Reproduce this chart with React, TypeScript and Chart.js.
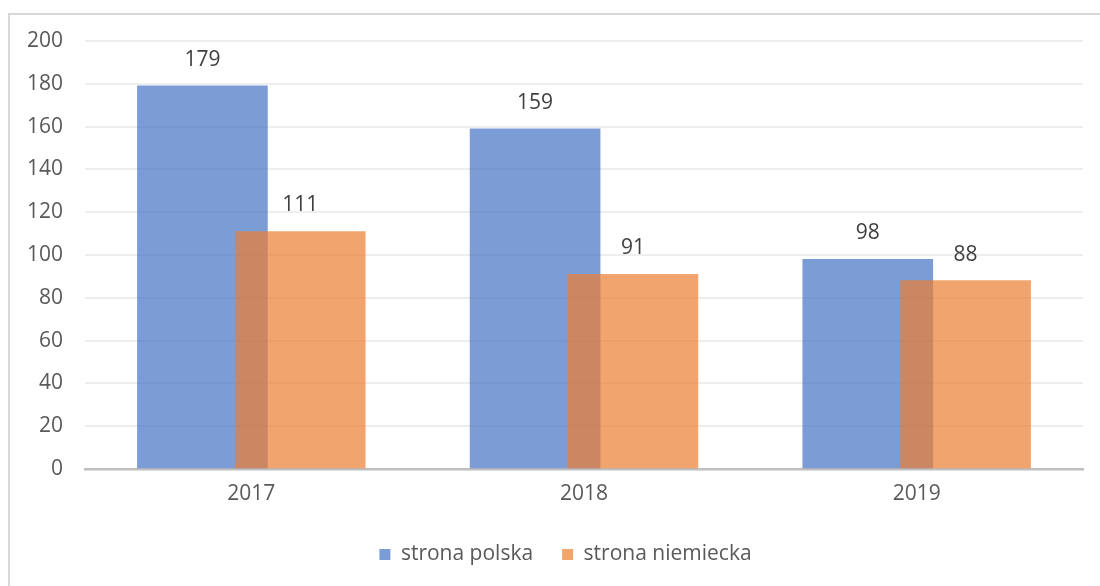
import React, { useEffect, useRef } from "react";
import { Chart, registerables } from "chart.js";

Chart.register(...registerables);

const categories = ["2017", "2018", "2019"];
const seriesNames = ["strona polska", "strona niemiecka"];
const polskaValues = [179, 159, 98];
const niemieckaValues = [111, 91, 88];
const yMin = 0;
const yMax = 200;
const yStep = 20;

const FONT = "'Open Sans', 'Noto Sans', sans-serif";
const FS = 21;
const SHIFT = 0.147;
const LEGEND_SHIFT = 24;

const valueLabels = {
  id: "valueLabels",
  afterDatasetsDraw(chart: any) {
    const ctx = chart.ctx;
    ctx.save();
    ctx.font = `${FS}px ${FONT}`;
    ctx.fillStyle = "#404040";
    ctx.textAlign = "center";
    ctx.textBaseline = "middle";
    chart.data.datasets.forEach((ds: any, di: number) => {
      const meta = chart.getDatasetMeta(di);
      meta.data.forEach((el: any, i: number) => {
        const v = ds.data[i].y;
        ctx.fillText(String(v), el.x, el.y - 26);
      });
    });
    ctx.restore();
  },
};

const legendShift = {
  id: "legendShift",
  afterLayout(chart: any) {
    const lg = chart.legend;
    if (lg) {
      lg.left += LEGEND_SHIFT;
      lg.right += LEGEND_SHIFT;
      if (lg.adjustHitBoxes) lg.adjustHitBoxes();
    }
  },
};

export default function App() {
  const ref = useRef<HTMLCanvasElement | null>(null);
  useEffect(() => {
    document.body.style.margin = "0";
    if (!ref.current) return;
    const chart = new Chart(ref.current, {
      type: "bar",
      data: {
        datasets: [
          {
            label: seriesNames[0],
            data: polskaValues.map((v, i) => ({ x: i - SHIFT, y: v })),
            backgroundColor: "rgba(68,114,196,0.7)",
            borderWidth: 0,
            order: 2,
          },
          {
            label: seriesNames[1],
            data: niemieckaValues.map((v, i) => ({ x: i + SHIFT, y: v })),
            backgroundColor: "rgba(237,125,49,0.7)",
            borderWidth: 0,
            order: 1,
          },
        ],
      },
      options: {
        animation: false,
        responsive: false,
        grouped: false,
        barThickness: 130,
        layout: { padding: { top: 41, right: 17, left: 0, bottom: 11 } },
        plugins: {
          tooltip: { enabled: false },
          legend: {
            position: "bottom",
            labels: {
              boxWidth: 11,
              boxHeight: 11,
              padding: 29,
              color: "#595959",
              font: { family: FONT, size: FS },
              sort: (a: any, b: any) => a.datasetIndex - b.datasetIndex,
            },
          },
        },
        scales: {
          x: {
            type: "linear",
            offset: false,
            min: -0.5,
            max: categories.length - 0.5,
            afterBuildTicks: (axis: any) => {
              axis.ticks = categories.map((_, i) => ({ value: i }));
            },
            afterFit: (axis: any) => {
              axis.height = 46;
            },
            ticks: {
              callback: (v: any) => categories[v as number] ?? "",
              color: "#595959",
              font: { family: FONT, size: FS },
              padding: 12,
              maxRotation: 0,
              autoSkip: false,
            },
            grid: { display: false, drawTicks: false },
            border: { display: true, color: "#bfbfbf", width: 2.5 },
          },
          y: {
            min: yMin,
            max: yMax,
            ticks: {
              stepSize: yStep,
              color: "#595959",
              font: { family: FONT, size: FS },
              padding: 22,
            },
            afterFit: (axis: any) => {
              axis.width = 85;
            },
            grid: { color: "#eeeeee", lineWidth: 2, drawTicks: false },
            border: { display: false },
          },
        },
      } as any,
      plugins: [valueLabels, legendShift],
    });
    return () => chart.destroy();
  }, []);

  return (
    <div style={{ position: "relative", width: 1100, height: 586, overflow: "hidden", background: "#fff" }}>
      <div
        style={{
          position: "absolute",
          left: 8,
          top: 13,
          width: 1200,
          height: 700,
          border: "2px solid #d9d9d9",
          boxSizing: "border-box",
        }}
      />
      <canvas ref={ref} width={1100} height={586} style={{ position: "absolute", left: 0, top: 0, width: 1100, height: 586 }} />
    </div>
  );
}
